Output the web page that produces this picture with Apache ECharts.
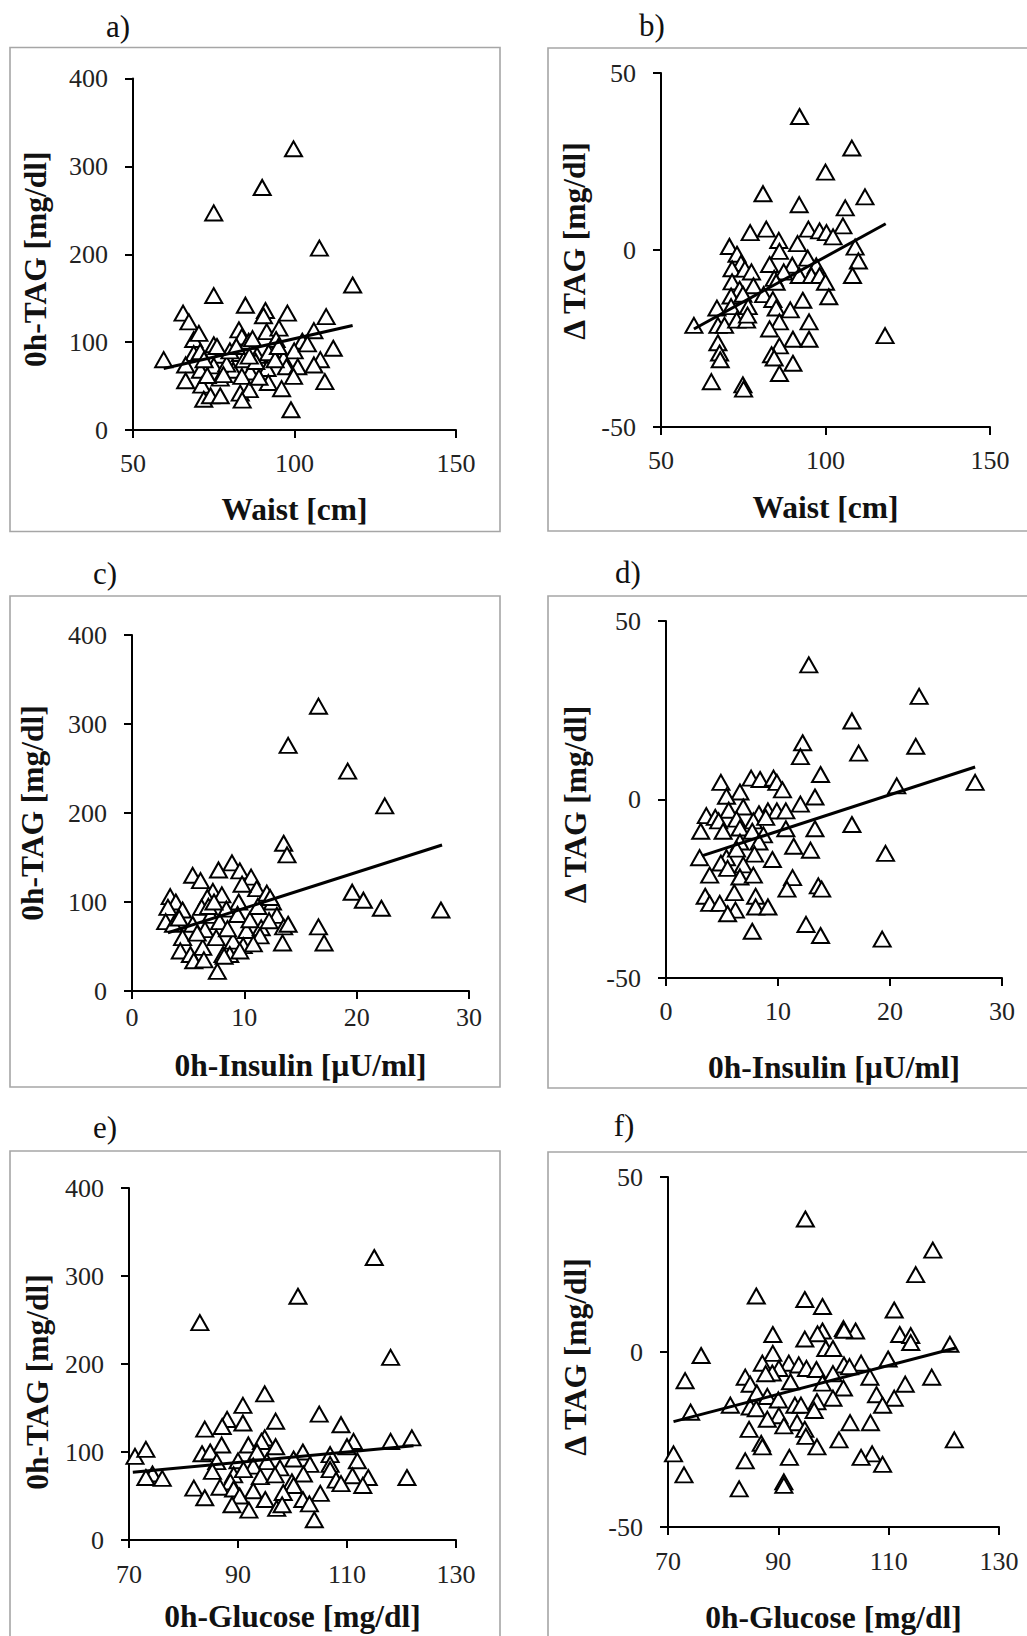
<!DOCTYPE html>
<html>
<head>
<meta charset="utf-8">
<script src="https://cdn.jsdelivr.net/npm/echarts@6/dist/echarts.min.js"></script>
<style>
html,body{margin:0;padding:0;background:#fff;}
#main{width:1027px;height:1636px;}
</style>
</head>
<body>
<div id="main"></div>
<script>
// a) waist vs 0h-TAG
var ptsA = [[99.7,320],[90,276],[75,247],[107.7,207],[118,165],[75,153],[84.8,142],[65.5,133],[91,136],[97.8,133],
  [109.8,129],[67.3,123],[90.4,130],[82.8,114],[91.4,112],[95.2,116],[106,113],[102.4,101],[112,93],[68.8,103],
  [70.4,110],[75,97],[83.7,106],[85.8,101],[94.3,103],[99.9,90],[59.5,80],[108,80],[68.8,87],[70.8,89],
  [77,85],[83.2,87],[88.4,85],[93.5,85],[96.6,81],[66.3,74],[70.9,68],[75,73],[81,68],[84.3,80],
  [86.3,66],[91.5,70],[97.5,72],[101,72],[106,74],[66.3,56],[71.3,51],[77,59],[83.7,61],[91.9,54],
  [96,47],[99.7,61],[109.4,55],[71.9,35],[74,39],[77,39],[83.2,42],[86,46],[83.8,34],[98.9,23],
  [79,75],[80,90],[82,95],[88,78],[89,60],[92,88],[94,80],[73,62],[86,84],[78,63],[76,95],[72,80],[87,104],[95,95],[104,98]];
var trendA = [[59.5,70],[118,119]];

// b) waist vs delta TAG
var ptsB = [[92.1,37.7],[108,28.8],[100,22],[81,15.9],[112,15],[92,12.8],[106,11.9],[105.3,6.8],[94.8,5.9],[77.1,4.9],
  [82,5.9],[98.2,5.4],[100.3,4.9],[102.3,3.7],[85.8,2.7],[91.5,1.8],[70.8,1],[109,0.8],[73.1,-1.2],[86,-0.4],
  [94.6,-2.3],[110,-3.1],[74.3,-3.8],[83,-4.1],[89.9,-4.3],[71.6,-5.3],[75.5,-5.4],[97.2,-4.5],[87.3,-6.2],[77.5,-6.2],
  [92,-7.2],[95.7,-7.2],[98.2,-7.2],[108.2,-7.2],[84.4,-8],[71.6,-9],[78.1,-10.1],[100,-9.1],[85,-9.1],[73.9,-11.1],
  [101,-13.2],[81.2,-12.6],[71.3,-13],[74.9,-12.5],[93.1,-14.2],[84,-14],[67,-16.4],[71.3,-16],[76.5,-16],[85,-16.4],
  [89.3,-16.9],[60,-21.3],[67.3,-21.3],[69.3,-21.3],[73,-19.8],[76,-19.8],[76.3,-18.4],[95,-20.3],[86,-20.3],[83,-22.3],
  [118.1,-24.2],[90.1,-25.2],[95,-25.2],[67.3,-26.2],[86,-27.1],[67.8,-29.1],[83.6,-29.6],[84.4,-30.5],[68,-31],[90.1,-32],
  [86,-34.9],[65.3,-37.2],[74.9,-38.1],[75.1,-39.3]];
var trendB = [[60,-22.3],[118.3,7.4]];

// c) insulin vs 0h-TAG
var ptsC = [[16.6,320],[13.9,276],[19.2,247],[22.5,208],[13.5,166],[13.8,153],[8.9,144],[7.7,136],[9.6,135],[5.4,130],
  [6.1,124],[10.6,128],[19.6,111],[20.6,102],[22.2,93],[27.5,91],[3.4,106],[3.9,100],[7.2,112],[8,108],
  [6.7,105],[9.5,100],[11.1,115],[12,110],[12.5,100],[3.2,94],[4.5,91],[6.2,94],[8.4,92],[9.4,86],
  [12.9,85],[3,78],[3.7,75],[5.4,75],[7,85],[7.8,78],[10.2,68],[11.5,71],[12.2,79],[13.5,72],
  [13.9,75],[16.6,72],[4.5,60],[6.5,69],[7.5,60],[9,56],[11.4,62],[13.4,54],[17.1,54],[4.3,45],
  [5.2,41],[6.3,49],[8.1,41],[8.7,41],[9.9,51],[10.8,53],[5.5,34],[6.4,35],[8.2,39],[7.6,22],
  [9.6,45],[5.8,65],[4.2,82],[6.8,95],[8.5,70],[10.5,80],[11.2,95],[9.8,120],[12.3,105],[7.3,100]];
var trendC = [[3.2,65.5],[27.6,164]];

// d) insulin vs delta TAG
var ptsD = [[12.75,37.7],[22.6,28.9],[16.6,22],[12.2,15.9],[22.3,14.9],[17.2,13],[12,12],[13.8,7],[27.6,4.8],[20.6,3.8],
  [4.9,4.8],[7.6,6],[8.4,5.6],[9.6,6],[9.9,4.8],[10.4,2.7],[6.6,2.1],[5.4,0.9],[13.3,0.7],[12,-1.3],
  [6.9,-2.1],[5.6,-3],[9.1,-3.2],[9.9,-3.2],[10.7,-3.2],[8.3,-4],[3.6,-4.5],[4.4,-5],[6.3,-5.5],[7.8,-6],
  [4.7,-6],[16.6,-7],[8.9,-5],[3.1,-8.9],[5.1,-8.9],[6.6,-8],[7.7,-8.9],[8.7,-9.9],[10.7,-8.2],[13.3,-8.2],
  [6.6,-11.9],[8.3,-11.9],[11.4,-13.1],[12.9,-14.2],[3,-16.3],[5.4,-16.3],[6.3,-13.9],[7.9,-15.3],[9.5,-16.8],[19.6,-15.1],
  [6.9,-18.3],[4.9,-17.8],[5.5,-19.3],[3.9,-21.2],[6.6,-21.7],[7.8,-21.2],[11.3,-21.9],[10.8,-25.1],[13.6,-24.2],[13.9,-25.1],
  [3.5,-27.1],[6.1,-26.1],[8,-27.1],[3.9,-29.1],[4.8,-29.1],[8,-30.1],[9.1,-30.1],[6.2,-31],[5.5,-32],[12.5,-35],
  [7.7,-36.9],[13.8,-38.1],[19.3,-39.1]];
var trendD = [[3.2,-15.8],[27.6,9.1]];

// e) glucose vs 0h-TAG
var ptsE = [[115,321],[101,277],[83,247],[118,207.5],[94.9,166],[90.9,153],[104.9,143],[88,137],[96.9,135],[87.1,129],
  [90.9,133],[108.9,131],[83.9,126],[121.9,116],[118,112],[94.9,116],[111.2,112],[71.1,95],[73.1,103],[87,108],
  [91.9,108],[94.3,112],[96.9,106],[110,106],[101.9,100],[83.4,98],[84.9,100],[93.5,100],[106.9,97],[100.2,92],
  [90,90],[111.9,90],[86.1,89],[95.3,89],[103.2,86],[106.9,86],[92.8,84],[97.7,82],[85.3,78],[106.9,80],
  [74.3,75],[73.1,71],[76.1,70],[102,75],[121,71],[111,73],[113.9,71],[89.2,74],[91,80],[94.1,72],
  [96.8,74],[88.6,66],[108,68],[108.9,64],[99.9,66],[81.9,59],[86.7,60],[89.2,58],[92.8,56],[112.9,62],
  [100.2,62],[105.1,53],[83.9,48],[90.3,50],[95,46],[98.3,54],[101.9,46],[88.9,40],[97.1,36],[98.1,40],
  [103.1,41],[92,34],[104,23]];
var trendE = [[70.7,77],[122.2,107]];

// f) glucose vs delta TAG
var ptsF = [[94.9,38],[118,29.1],[114.9,22.1],[86,16],[94.8,15],[98,13],[111,12],[101.8,6.7],[104,6],[89,5],
  [98,6],[97.1,5.2],[112,5],[114,4.7],[94.8,3.7],[101.9,6.2],[114,2.7],[121.1,2.2],[98.6,1],[99.9,1],
  [89,-0.4],[76,-1],[109.9,-2],[87.1,-3.2],[91.9,-3.2],[93.7,-3.7],[105,-3.2],[101.9,-3.7],[102.9,-4.2],[90.1,-4.7],
  [95.1,-4.7],[96.9,-5],[88.9,-6],[84,-7.2],[99.9,-6.2],[87.7,-6.2],[106.6,-7.2],[117.8,-7.2],[73.1,-8.2],[84.9,-9.2],
  [92.2,-8.5],[98,-8.9],[113,-9.2],[101.8,-10.3],[86.1,-11.7],[107.8,-12.2],[88,-12.7],[90,-13.7],[111,-13.2],[99.9,-13.2],
  [97,-14.2],[93,-15.2],[94.1,-15.2],[81.3,-15.2],[108.9,-15.2],[74.1,-17.2],[84.9,-15.7],[86,-16.2],[96.5,-16.7],[90.1,-18.2],
  [88,-19.2],[93.4,-20.2],[103,-20.2],[106.7,-20.2],[91,-21.1],[94.8,-22.1],[84.7,-22.1],[95,-24.1],[101,-25.1],[121.9,-25.1],
  [86.9,-26.1],[87.1,-27.1],[97,-27.1],[71,-29.1],[107,-29.1],[92,-30.1],[105,-30.1],[108.9,-32.1],[84,-31.1],[72.9,-35.1],
  [91,-37.1],[91,-38.1],[82.9,-39.1]];
var trendF = [[71,-19.9],[122.3,1.2]];

var waistTicks = [50, 100, 150];
var insulinTicks = [0, 10, 20, 30];
var glucoseTicks = [70, 90, 110, 130];
var tagTicks = [0, 100, 200, 300, 400];
var dtagTicks = [-50, 0, 50];

var serif = 'Liberation Serif';

// ypad shifts the rotated y title along its axis (right pad = down)
var panels = [
  {pts: ptsA, trend: trendA, xt: waistTicks, yt: tagTicks, xname: 'Waist [cm]', yname: '0h-TAG [mg/dl]',
   grid: {left: 133, top: 78.5, width: 323, height: 351.5}, xgap: 63.5, lm: 20, ygap: 82, ypad: [0, 10, 0, 0],
   box: [10, 47.5, 490, 484], tag: 'a)', tagPos: [118, 26]},
  {pts: ptsB, trend: trendB, xt: waistTicks, yt: dtagTicks, xname: 'Waist [cm]', yname: 'Δ TAG [mg/dl]',
   grid: {left: 661, top: 73, width: 329, height: 354}, xgap: 64.5, lm: 20, ygap: 71, ypad: [0, 0, 0, 18],
   box: [548, 48, 520, 483], tag: 'b)', tagPos: [652, 25]},
  {pts: ptsC, trend: trendC, xt: insulinTicks, yt: tagTicks, xname: '0h-Insulin [µU/ml]', yname: '0h-TAG [mg/dl]',
   grid: {left: 132, top: 635, width: 337, height: 356}, xgap: 58, lm: 13, ygap: 84, ypad: [0, 0, 0, 0],
   box: [10, 596, 490, 491], tag: 'c)', tagPos: [105, 573]},
  {pts: ptsD, trend: trendD, xt: insulinTicks, yt: dtagTicks, xname: '0h-Insulin [µU/ml]', yname: 'Δ TAG [mg/dl]',
   grid: {left: 666, top: 621, width: 336, height: 357}, xgap: 73.5, lm: 20, ygap: 75, ypad: [0, 10, 0, 0],
   box: [548, 596, 520, 492], tag: 'd)', tagPos: [628, 572]},
  {pts: ptsE, trend: trendE, xt: glucoseTicks, yt: tagTicks, xname: '0h-Glucose [mg/dl]', yname: '0h-TAG [mg/dl]',
   grid: {left: 129, top: 1188, width: 327, height: 352}, xgap: 60, lm: 21, ygap: 76, ypad: [0, 36, 0, 0],
   box: [10, 1151, 490, 520], tag: 'e)', tagPos: [105, 1127]},
  {pts: ptsF, trend: trendF, xt: glucoseTicks, yt: dtagTicks, xname: '0h-Glucose [mg/dl]', yname: 'Δ TAG [mg/dl]',
   grid: {left: 668, top: 1177, width: 331, height: 350}, xgap: 74.5, lm: 21, ygap: 77, ypad: [0, 10, 0, 0],
   box: [548, 1152, 520, 520], tag: 'f)', tagPos: [624, 1125]}
];

var axisLineStyle = {color: '#000', width: 2};

function valueAxis(ticks, gi, name, gap, margin, pad) {
  return {
    type: 'value',
    gridIndex: gi,
    min: ticks[0],
    max: ticks[ticks.length - 1],
    name: name,
    nameLocation: 'middle',
    nameGap: gap,
    nameTextStyle: {fontFamily: serif, fontWeight: 'bold', fontSize: 31.5, color: '#111', padding: pad},
    axisLine: {show: true, onZero: false, lineStyle: axisLineStyle},
    axisTick: {show: true, inside: false, length: 8, lineStyle: axisLineStyle, customValues: ticks},
    axisLabel: {fontFamily: serif, fontSize: 26, color: '#222', margin: margin, customValues: ticks, showMinLabel: true, showMaxLabel: true},
    splitLine: {show: false}
  };
}

var grids = [], xAxes = [], yAxes = [], series = [], graphics = [];
panels.forEach(function (p, i) {
  grids.push({left: p.grid.left, top: p.grid.top, width: p.grid.width, height: p.grid.height, containLabel: false});
  xAxes.push(valueAxis(p.xt, i, p.xname, p.xgap, p.lm, [0, 0, 0, 0]));
  yAxes.push(valueAxis(p.yt, i, p.yname, p.ygap, 25, p.ypad));
  series.push({
    type: 'scatter', xAxisIndex: i, yAxisIndex: i, data: p.pts,
    symbol: 'triangle', symbolSize: [17, 15],
    itemStyle: {color: '#fff', borderColor: '#000', borderWidth: 2, opacity: 1},
    z: 2
  });
  series.push({
    type: 'line', xAxisIndex: i, yAxisIndex: i, data: p.trend,
    showSymbol: false, symbol: 'none',
    lineStyle: {color: '#000', width: 3},
    z: 3
  });
  graphics.push({type: 'rect', shape: {x: p.box[0], y: p.box[1], width: p.box[2], height: p.box[3]},
    style: {fill: null, stroke: '#a6a6a6', lineWidth: 1.6}, z: 0, silent: true});
  graphics.push({type: 'text', x: p.tagPos[0], y: p.tagPos[1],
    style: {text: p.tag, font: '31px ' + serif, fill: '#111', textAlign: 'center', textVerticalAlign: 'middle'}});
});

var myChart = echarts.init(document.getElementById('main'), null, {renderer: 'svg'});
myChart.setOption({
  animation: false,
  backgroundColor: '#fff',
  grid: grids,
  xAxis: xAxes,
  yAxis: yAxes,
  series: series,
  graphic: graphics
});
</script>
</body>
</html>
